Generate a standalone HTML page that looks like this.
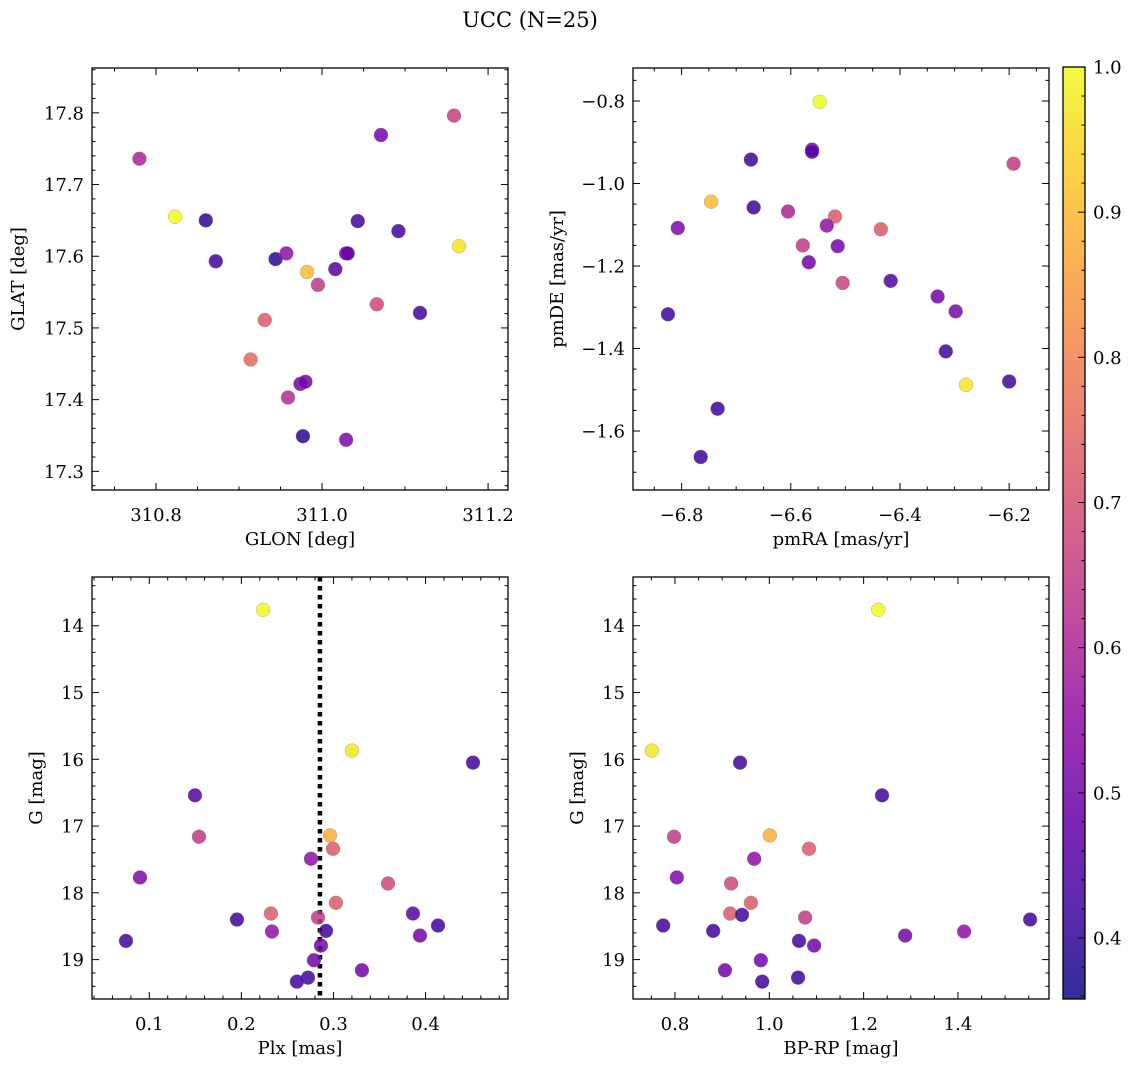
<!DOCTYPE html>
<html><head><meta charset="utf-8"><style>
html,body{margin:0;padding:0;background:#fff;}
svg{display:block;font-family:"DejaVu Serif","Liberation Serif",serif;}
</style></head><body>
<svg id="fig" width="1136" height="1067" viewBox="0 0 1136 1067" xmlns="http://www.w3.org/2000/svg">
<rect width="1136" height="1067" fill="#fff"/>
<text x="530" y="27" font-size="21" text-anchor="middle">UCC (N=25)</text>
</svg>
<script>
// ---------- data ----------
const glon = [310.780,310.823,310.860,310.872,310.944,310.957,310.982,310.995,310.931,310.914,310.974,310.980,310.959,310.977,311.029,311.016,311.029,311.031,311.043,311.071,311.066,311.092,311.118,311.159,311.165];
const glat = [17.736,17.655,17.650,17.593,17.596,17.604,17.578,17.560,17.511,17.456,17.422,17.425,17.403,17.349,17.344,17.582,17.604,17.604,17.649,17.769,17.533,17.635,17.521,17.796,17.614];
const probPos = [0.6,1.0,0.4,0.42,0.4,0.55,0.9,0.65,0.72,0.75,0.5,0.5,0.62,0.4,0.52,0.45,0.5,0.48,0.42,0.5,0.68,0.42,0.42,0.66,0.97];

const pmra = [-6.547,-6.673,-6.561,-6.561,-6.192,-6.746,-6.668,-6.605,-6.519,-6.534,-6.807,-6.435,-6.578,-6.514,-6.567,-6.505,-6.417,-6.825,-6.331,-6.298,-6.316,-6.200,-6.279,-6.734,-6.765];
const pmde = [-0.802,-0.942,-0.918,-0.923,-0.952,-1.044,-1.058,-1.068,-1.080,-1.102,-1.108,-1.111,-1.150,-1.152,-1.191,-1.241,-1.236,-1.317,-1.274,-1.310,-1.407,-1.480,-1.488,-1.546,-1.663];
const probPm = [1.0,0.42,0.5,0.45,0.65,0.9,0.42,0.6,0.72,0.55,0.52,0.72,0.65,0.5,0.5,0.67,0.45,0.42,0.5,0.52,0.42,0.42,0.97,0.42,0.42];

const plx = [0.2235,0.3201,0.4515,0.1496,0.154,0.2962,0.2995,0.2756,0.0899,0.3592,0.3027,0.1952,0.2321,0.2832,0.3863,0.4135,0.2919,0.2332,0.0747,0.2864,0.3939,0.2788,0.3309,0.2723,0.2603];
const gmagA = [13.76,15.87,16.05,16.54,17.16,17.14,17.34,17.49,17.77,17.86,18.15,18.40,18.31,18.37,18.31,18.49,18.57,18.58,18.72,18.79,18.64,19.01,19.16,19.27,19.33];
const probPlx = [1.0,0.97,0.42,0.45,0.65,0.88,0.72,0.55,0.52,0.68,0.72,0.42,0.72,0.65,0.45,0.42,0.42,0.55,0.42,0.5,0.5,0.5,0.5,0.42,0.42];
const plxMedian = 0.2853;

const bprp = [1.231,0.751,0.938,1.239,0.798,1.001,1.084,0.968,0.804,0.919,0.961,1.553,0.775,1.076,0.917,0.942,0.881,1.413,1.063,1.095,1.288,0.982,0.906,1.061,0.985];
const gmagB = [13.76,15.87,16.05,16.54,17.16,17.14,17.34,17.49,17.77,17.86,18.15,18.40,18.49,18.37,18.31,18.33,18.57,18.58,18.72,18.79,18.64,19.01,19.16,19.27,19.33];
const probCmd = [1.0,0.97,0.42,0.42,0.65,0.88,0.72,0.55,0.52,0.68,0.72,0.42,0.42,0.65,0.72,0.42,0.42,0.55,0.42,0.5,0.5,0.5,0.5,0.42,0.42];

const cbTicks = [0.4,0.5,0.6,0.7,0.8,0.9,1.0];
const cbMin = 0.358, cbMax = 1.0;

// ---------- helpers ----------
const NS = "http://www.w3.org/2000/svg";
const svg = document.getElementById('fig');
const FS = 18;
function mk(tag, attrs, parent){ const e=document.createElementNS(NS,tag); for(const k in attrs) e.setAttribute(k,attrs[k]); (parent||svg).appendChild(e); return e; }
const plasma = [[0,13,8,135],[0.1,65,4,157],[0.2,106,0,168],[0.3,143,13,164],[0.4,177,42,144],[0.5,204,71,120],[0.6,225,100,98],[0.7,242,132,75],[0.8,252,166,54],[0.9,252,206,37],[1,240,249,33]];
function cmap(v){
  let t=(v-cbMin)/(cbMax-cbMin); t=Math.max(0,Math.min(1,t));
  for(let i=0;i<plasma.length-1;i++){const a=plasma[i],b=plasma[i+1]; if(t<=b[0]){const f=(t-a[0])/(b[0]-a[0]); return `rgb(${Math.round(a[1]+f*(b[1]-a[1]))},${Math.round(a[2]+f*(b[2]-a[2]))},${Math.round(a[3]+f*(b[3]-a[3]))})`;}}
  return 'rgb(240,249,33)';
}
function fmt(v,d){ let s=v.toFixed(d); if(s.startsWith('-')) s='\u2212'+s.slice(1); return s; }

function panel(o){
  const g=mk('g',{});
  
  
  const {x0,x1,y0,y1}=o;
  const sx=v=>x0+(v-o.xmin)/(o.xmax-o.xmin)*(x1-x0);
  const sy=o.yinv ? (v=>y0+(v-o.ymin)/(o.ymax-o.ymin)*(y1-y0)) : (v=>y1-(v-o.ymin)/(o.ymax-o.ymin)*(y1-y0));
  if(o.vline!==undefined){
    const l=mk('line',{x1:sx(o.vline),x2:sx(o.vline),y1:y0,y2:y1,stroke:'#000','stroke-width':4.5,'stroke-dasharray':'4.5,4.5'},g);
    
    
  }
  for(let i=0;i<o.xs.length;i++){
    const c=mk('circle',{cx:sx(o.xs[i]),cy:sy(o.ys[i]),r:7,fill:cmap(o.cs[i]),'fill-opacity':0.85,stroke:'#888','stroke-width':0.4,'stroke-opacity':0.8},g);
    
    
  }
  const fr=mk('rect',{x:x0,y:y0,width:x1-x0,height:y1-y0,fill:'none',stroke:'#000','stroke-width':1.3},g);
  
  
  const xm=o.xminor, xM=o.xmajor;
  for(let k=Math.ceil(o.xmin/xm-1e-6); k*xm<=o.xmax+1e-9; k++){
    const v=k*xm, px=sx(v); const isMaj=Math.abs(v/xM-Math.round(v/xM))<1e-4; const L=isMaj?7:3.5;
    mk('line',{x1:px,x2:px,y1:y1,y2:y1-L,stroke:'#000','stroke-width':1},g);
    mk('line',{x1:px,x2:px,y1:y0,y2:y0+L,stroke:'#000','stroke-width':1},g);
    if(isMaj){const t=mk('text',{x:px,y:y1+31,'font-size':FS,'text-anchor':'middle'},g); t.textContent=fmt(v,o.xdec);
       }
  }
  const ym=o.yminor, yM=o.ymajor;
  for(let k=Math.ceil(o.ymin/ym-1e-6); k*ym<=o.ymax+1e-9; k++){
    const v=k*ym, py=sy(v); const isMaj=Math.abs(v/yM-Math.round(v/yM))<1e-4; const L=isMaj?7:3.5;
    mk('line',{x1:x0,x2:x0+L,y1:py,y2:py,stroke:'#000','stroke-width':1},g);
    mk('line',{x1:x1,x2:x1-L,y1:py,y2:py,stroke:'#000','stroke-width':1},g);
    if(isMaj){const t=mk('text',{x:x0-8,y:py+6.5,'font-size':FS,'text-anchor':'end'},g); t.textContent=fmt(v,o.ydec);
       }
  }
  const xl=mk('text',{x:(x0+x1)/2,y:y1+55,'font-size':FS,'text-anchor':'middle'},g); xl.textContent=o.xlabel;
   
  const yx=o.ylx, yc=(y0+y1)/2;
  const yl=mk('text',{x:yx,y:yc,'font-size':FS,'text-anchor':'middle',transform:`rotate(-90 ${yx} ${yc})`},g); yl.textContent=o.ylabel;
   
}

panel({name:'glon-glat-panel',x0:92,x1:508,y0:68,y1:490,xmin:310.7229,xmax:311.224,ymin:17.274,ymax:17.8625,xmajor:0.2,xminor:0.05,ymajor:0.1,yminor:0.02,xdec:1,ydec:1,xs:glon,ys:glat,cs:probPos,xlabel:'GLON [deg]',ylabel:'GLAT [deg]',ylx:24});
panel({name:'pm-panel',x0:633,x1:1049,y0:68,y1:490,xmin:-6.889,xmax:-6.127,ymin:-1.743,ymax:-0.72,xmajor:0.2,xminor:0.05,ymajor:0.2,yminor:0.05,xdec:1,ydec:1,xs:pmra,ys:pmde,cs:probPm,xlabel:'pmRA [mas/yr]',ylabel:'pmDE [mas/yr]',ylx:563});
panel({name:'plx-g-panel',x0:92,x1:508,y0:577,y1:999,xmin:0.0378,xmax:0.4895,ymin:13.27,ymax:19.59,yinv:true,xmajor:0.1,xminor:0.02,ymajor:1,yminor:0.2,xdec:1,ydec:0,xs:plx,ys:gmagA,cs:probPlx,vline:plxMedian,xlabel:'Plx [mas]',ylabel:'G [mag]',ylx:42});
panel({name:'cmd-panel',x0:633,x1:1049,y0:577,y1:999,xmin:0.711,xmax:1.593,ymin:13.27,ymax:19.59,yinv:true,xmajor:0.2,xminor:0.05,ymajor:1,yminor:0.2,xdec:1,ydec:0,xs:bprp,ys:gmagB,cs:probCmd,xlabel:'BP-RP [mag]',ylabel:'G [mag]',ylx:583});

(function(){
  const cx0=1063,cx1=1085,cy0=67,cy1=999;
  const g=mk('g',{});
  
  
  const defs=mk('defs',{},g);
  const lg=mk('linearGradient',{id:'cbg',x1:0,y1:1,x2:0,y2:0},defs);
  for(let i=0;i<=20;i++){const t=i/20; mk('stop',{offset:t,'stop-color':cmap(cbMin+t*(cbMax-cbMin))},lg);}
  mk('rect',{x:cx0,y:cy0,width:cx1-cx0,height:cy1-cy0,fill:'url(#cbg)','fill-opacity':0.85},g);
  mk('rect',{x:cx0,y:cy0,width:cx1-cx0,height:cy1-cy0,fill:'none',stroke:'#000','stroke-width':1.3},g);
  const sy=v=>cy1-(v-cbMin)/(cbMax-cbMin)*(cy1-cy0);
  for(let k=Math.ceil(cbMin/0.02);k*0.02<=cbMax+1e-9;k++){
    const v=k*0.02, py=sy(v); const isMaj=k%5===0;
    mk('line',{x1:cx1,x2:cx1-(isMaj?7:3.5),y1:py,y2:py,stroke:'#000','stroke-width':1},g);
  }
  for(const v of cbTicks){
    const t=mk('text',{x:cx1+8,y:sy(v)+6.5,'font-size':FS},g); t.textContent=v.toFixed(1);
     
  }
})();
</script>
</body></html>
